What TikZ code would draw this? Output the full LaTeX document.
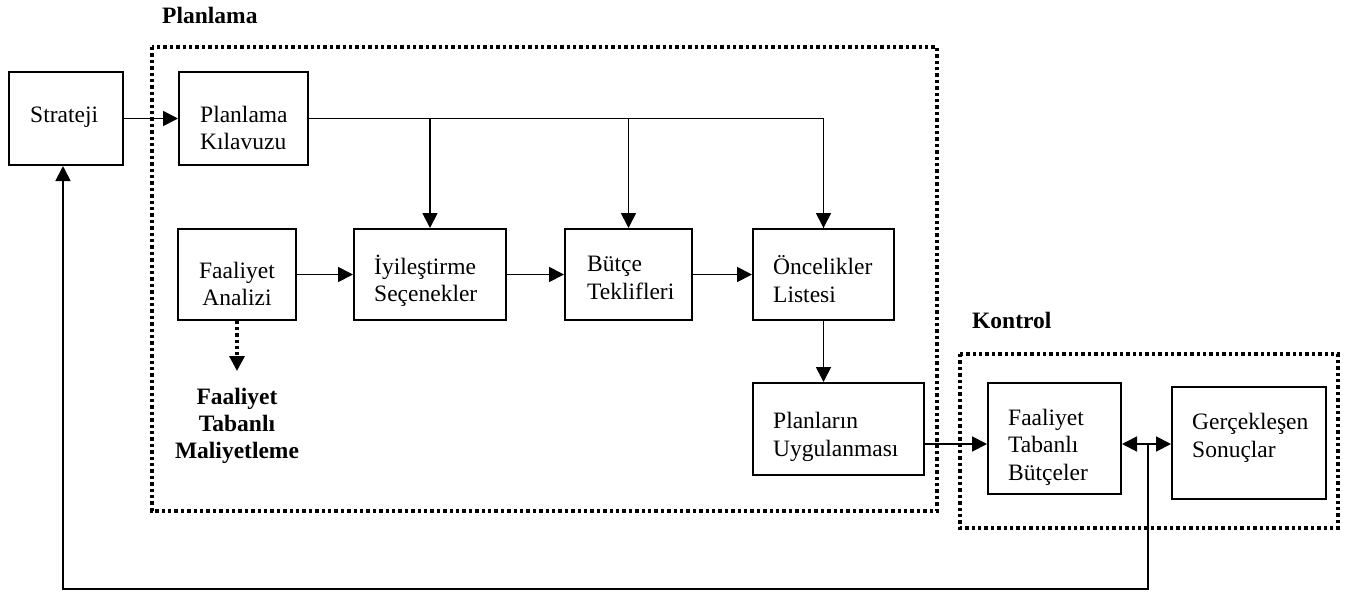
\documentclass[tikz,border=0pt]{standalone}
\usepackage{fontspec}
\setmainfont{Liberation Serif}
\usetikzlibrary{arrows.meta}
\begin{document}
\begin{tikzpicture}[x=1pt,y=-1pt,
  box/.style={draw,line width=2pt,inner sep=0pt},
  txt/.style={inner sep=0pt,font=\fontsize{23.5}{27.5}\selectfont,align=left,anchor=west},
  btxt/.style={inner sep=0pt,font=\fontsize{23.5}{27}\selectfont\bfseries,align=center},
  frame/.style={line width=3.4pt,dash pattern=on 3.4pt off 3pt},
  conn/.style={line width=1.8pt},
  head/.style={Triangle[length=15pt,width=15pt]},
  tip/.style={-{Triangle[length=15pt,width=15pt]}},
  bitip/.style={{Triangle[length=15pt,width=15pt]}-{Triangle[length=15pt,width=15pt]}}]
\useasboundingbox (0,0) rectangle (1350,595);

% group frames and their titles
\draw[frame] (152,47) rectangle (937,511);
\draw[frame] (960,354) rectangle (1338,528);
\node[btxt,anchor=base west] (tplan) at (162,23) {Planlama};
\node[btxt,anchor=base west] (tkont) at (972,328) {Kontrol};

% boxes
\node[box,minimum width=114pt,minimum height=93pt] (strat) at (66,118.5) {};
\node[box,minimum width=129pt,minimum height=93pt] (pk) at (243.5,118.5) {};
\node[box,minimum width=118pt,minimum height=91pt] (fa) at (237,274.5) {};
\node[box,minimum width=152pt,minimum height=91pt] (iy) at (430,274.5) {};
\node[box,minimum width=127pt,minimum height=91pt] (but) at (628.5,274.5) {};
\node[box,minimum width=141pt,minimum height=91pt] (onc) at (823.5,274.5) {};
\node[box,minimum width=171pt,minimum height=92pt] (plan) at (838.5,429) {};
\node[box,minimum width=133pt,minimum height=111pt] (ftb) at (1054.5,438.5) {};
\node[box,minimum width=154pt,minimum height=112pt] (gs) at (1249,443) {};

% box texts
\node[txt,anchor=base west] (strat-t) at (30,122) {Strateji};
\node[txt] (pk-t) at (200,128) {Planlama\\Kılavuzu};
\node[txt,anchor=center,align=center] (fa-t) at (237,284) {Faaliyet\\Analizi};
\node[txt] (iy-t) at (374,281) {İyileştirme\\Seçenekler};
\node[txt] (but-t) at (587,278) {Bütçe\\Teklifleri};
\node[txt] (onc-t) at (773,279) {Öncelikler\\Listesi};
\node[txt] (plan-t) at (773,437) {Planların\\Uygulanması};
\node[txt] (ftb-t) at (1008,447) {Faaliyet\\Tabanlı\\Bütçeler};
\node[txt] (gs-t) at (1192,438) {Gerçekleşen\\Sonuçlar};
\node[btxt] (ftm) at (237,426) {Faaliyet\\Tabanlı\\Maliyetleme};

% connectors
\draw[conn,tip] (strat) -- (pk);
\draw[conn] (pk.east) -| (onc.north);
\draw[conn,tip] (onc.north |- pk.east) -- (onc.north);
\draw[conn,tip] (pk.east -| iy.north) -- (iy.north);
\draw[conn,tip] (pk.east -| but.north) -- (but.north);
\draw[conn,tip] (fa) -- (iy);
\draw[conn,tip] (iy) -- (but);
\draw[conn,tip] (but) -- (onc);
\draw[conn,tip] (onc.south) -- (onc.south |- plan.north);
\coordinate (ftm-in) at (237,371);
\draw[line width=3.2pt,dash pattern=on 3.2pt off 3pt,-{Triangle[length=15pt,width=15pt]}] (fa.south) -- (ftm-in);

\coordinate (jn) at (1148,444);
\coordinate (fb) at (63,589);
\draw[conn,tip] (plan.east |- jn) -- (ftb.west |- jn);
\draw[conn,bitip] (ftb.east |- jn) -- (gs.west |- jn);
\draw[conn,tip] (jn) |- (fb) -- (fb |- strat.south);
\end{tikzpicture}
\end{document}
